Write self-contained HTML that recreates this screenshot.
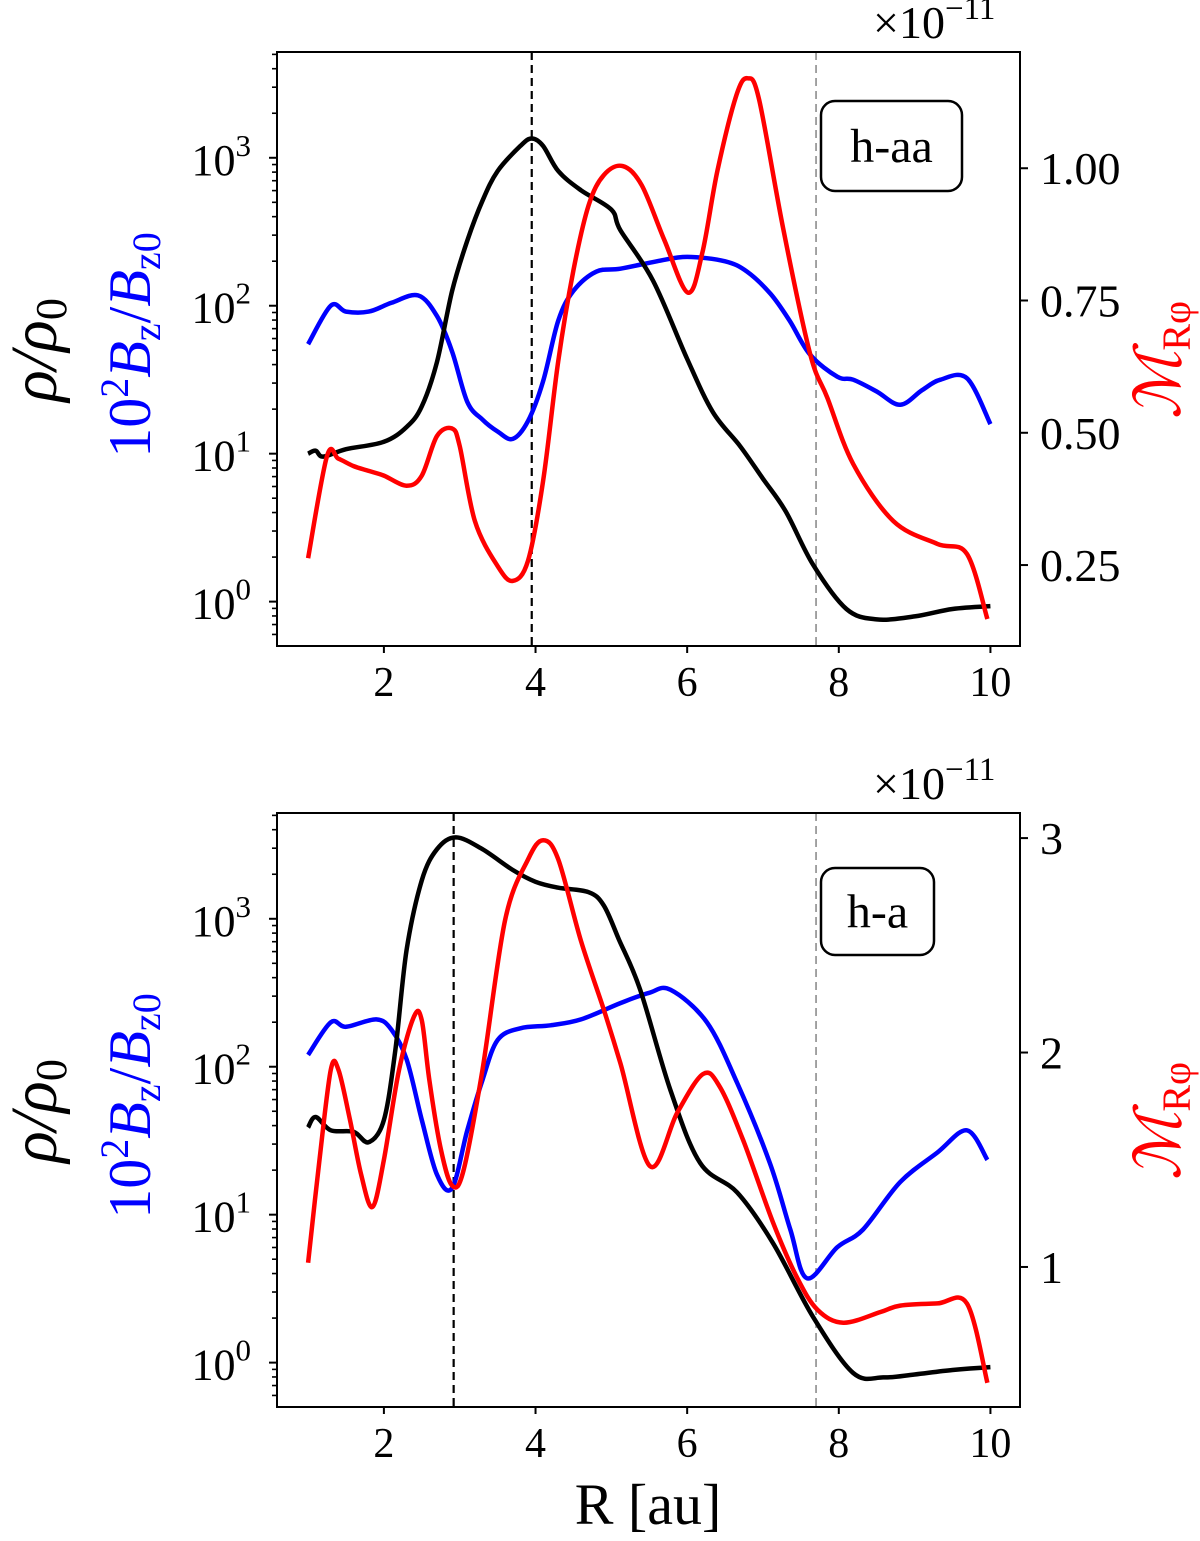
<!DOCTYPE html>
<html><head><meta charset="utf-8"><style>
html,body{margin:0;padding:0;background:#fff;}
svg{display:block;font-family:"Liberation Serif","DejaVu Serif",serif;}
</style></head><body>
<svg id="chart" width="1200" height="1541" viewBox="0 0 1200 1541" xmlns="http://www.w3.org/2000/svg"></svg>
<script>
// ---- data ----
const topR = [1,1.1,1.2,1.5,2,2.3,2.5,2.7,2.9,3.1,3.3,3.5,3.8,3.95,4.1,4.3,4.6,5,5.12,5.55,6.0,6.34,6.7,7.0,7.3,7.66,8.1,8.5,9.0,9.5,10];
const topRhoLog = [1.00,1.02,0.98,1.03,1.08,1.18,1.32,1.62,2.10,2.44,2.71,2.91,3.08,3.13,3.08,2.91,2.78,2.65,2.51,2.17,1.64,1.28,1.05,0.83,0.61,0.25,-0.05,-0.12,-0.10,-0.05,-0.03];
const topBR = [1,1.3,1.5,1.8,2.1,2.45,2.7,2.9,3.1,3.3,3.5,3.7,3.9,4.1,4.3,4.5,4.8,5.12,5.6,6.0,6.5,6.79,7.1,7.35,7.62,7.98,8.19,8.5,8.81,9.1,9.34,9.69,10];
const topBzLog = [1.74,2.0,1.96,1.96,2.02,2.07,1.93,1.69,1.35,1.23,1.15,1.10,1.22,1.49,1.90,2.10,2.23,2.25,2.30,2.33,2.30,2.23,2.08,1.90,1.67,1.52,1.50,1.42,1.33,1.43,1.50,1.51,1.20];
const topMR = [1,1.25,1.4,1.6,1.8,2,2.3,2.5,2.7,2.9,3.0,3.2,3.5,3.7,3.9,4.1,4.3,4.5,4.7,4.9,5.15,5.4,5.7,6.01,6.2,6.4,6.65,6.8,6.95,7.27,7.62,7.85,8.19,8.72,9.3,9.69,9.96];
const topM = [0.263,0.456,0.451,0.437,0.428,0.419,0.40,0.419,0.494,0.508,0.475,0.333,0.248,0.220,0.258,0.409,0.636,0.807,0.930,0.987,1.004,0.968,0.864,0.765,0.840,0.996,1.138,1.170,1.129,0.883,0.650,0.566,0.441,0.333,0.290,0.271,0.148];
const botR = [1,1.1,1.3,1.6,1.8,2,2.15,2.3,2.5,2.7,2.95,3.3,3.7,4,4.3,4.7,4.9,5.1,5.38,5.78,6.17,6.66,7.13,7.66,8.19,8.59,9.0,9.5,10];
const botRhoLog = [1.59,1.66,1.57,1.56,1.49,1.64,2.11,2.79,3.26,3.47,3.55,3.47,3.33,3.25,3.21,3.18,3.09,2.86,2.52,1.84,1.35,1.15,0.81,0.31,-0.07,-0.10,-0.08,-0.05,-0.03];
const botBR = [1,1.3,1.5,1.9,2.1,2.3,2.5,2.7,2.9,3.1,3.3,3.5,3.8,4.2,4.6,5.12,5.5,5.78,6.26,6.66,7.09,7.36,7.58,7.98,8.32,8.81,9.3,9.69,9.96];
const botBzLog = [2.08,2.30,2.27,2.32,2.25,2.05,1.64,1.27,1.18,1.57,1.91,2.18,2.26,2.28,2.32,2.43,2.50,2.52,2.30,1.89,1.35,0.90,0.57,0.78,0.90,1.22,1.42,1.57,1.37];
const botMR = [1,1.15,1.3,1.4,1.55,1.7,1.85,2,2.2,2.4,2.5,2.6,2.75,2.9,3.05,3.3,3.6,3.9,4.1,4.3,4.6,4.9,5.12,5.51,5.87,6.21,6.43,6.74,7.13,7.45,7.72,8.06,8.55,8.81,9.3,9.69,9.96];
const botM = [1.02,1.50,1.92,1.92,1.69,1.43,1.28,1.50,1.92,2.17,2.15,1.87,1.55,1.38,1.45,1.92,2.62,2.90,2.99,2.90,2.52,2.20,1.95,1.47,1.72,1.90,1.84,1.59,1.21,0.95,0.80,0.74,0.79,0.82,0.83,0.83,0.46];
const xTicks = [2,4,6,8,10];
const logTicks = [0,1,2,3];
const topRightTicks = [0.25,0.50,0.75,1.00];
const botRightTicks = [1,2,3];

const NS="http://www.w3.org/2000/svg";
const svg=document.getElementById('chart');
function el(tag,attrs,parent,text){const e=document.createElementNS(NS,tag);for(const k in attrs)e.setAttribute(k,attrs[k]);if(text!==undefined)e.textContent=text;(parent||svg).appendChild(e);return e;}
function smoothPath(pts){let d='M'+pts[0][0].toFixed(1)+','+pts[0][1].toFixed(1);for(let i=0;i<pts.length-1;i++){const p0=pts[Math.max(0,i-1)],p1=pts[i],p2=pts[i+1],p3=pts[Math.min(pts.length-1,i+2)];const c1=[p1[0]+(p2[0]-p0[0])/6,p1[1]+(p2[1]-p0[1])/6],c2=[p2[0]-(p3[0]-p1[0])/6,p2[1]-(p3[1]-p1[1])/6];d+=' C'+c1[0].toFixed(1)+','+c1[1].toFixed(1)+' '+c2[0].toFixed(1)+','+c2[1].toFixed(1)+' '+p2[0].toFixed(1)+','+p2[1].toFixed(1);}return d;}

function panel(cfg){
  const L=277,R=1020,T=cfg.top,B=cfg.top+594;
  const xs=v=>L+(v-0.59)/(10.39-0.59)*(R-L);
  const yl=v=>B-(v-(-0.30))/(3.715+0.30)*(B-T);
  const yr=v=>B-(v-cfg.rmin)/(cfg.rmax-cfg.rmin)*(B-T);
  const g=el('g',{});
  
  
  const v1=el('line',{x1:xs(cfg.vline),x2:xs(cfg.vline),y1:T,y2:B,stroke:'#000','stroke-width':2.2,'stroke-dasharray':'8,5'},g);
  
  
  const v2=el('line',{x1:xs(7.7),x2:xs(7.7),y1:T,y2:B,stroke:'#999','stroke-width':1.8,'stroke-dasharray':'8,5'},g);
  
  
  const b=el('path',{d:smoothPath(cfg.bR.map((r,i)=>[xs(r),yl(cfg.bz[i])])),fill:'none',stroke:'#0000ff','stroke-width':4.5,'stroke-linejoin':'round'},g);
  
  
  const k=el('path',{d:smoothPath(cfg.rhoR.map((r,i)=>[xs(r),yl(cfg.rho[i])])),fill:'none',stroke:'#000','stroke-width':4.5,'stroke-linejoin':'round'},g);
  
  
  const m=el('path',{d:smoothPath(cfg.mR.map((r,i)=>[xs(r),yr(cfg.m[i])])),fill:'none',stroke:'#ff0000','stroke-width':4.5,'stroke-linejoin':'round'},g);
  
  
  const f=el('rect',{x:L,y:T,width:R-L,height:B-T,fill:'none',stroke:'#000','stroke-width':2},g);
  
  
  xTicks.forEach(t=>{el('line',{x1:xs(t),x2:xs(t),y1:B,y2:B+7,stroke:'#000','stroke-width':2},g);
    const tx=el('text',{x:xs(t),y:B+50,'font-size':42,'text-anchor':'middle'},g,String(t));
    
    });
  for(let e=-1;e<=3;e++){for(let mm=2;mm<=9;mm++){const v=e+Math.log10(mm);if(v>-0.30&&v<3.715)el('line',{x1:L-5,x2:L,y1:yl(v),y2:yl(v),stroke:'#000','stroke-width':1.6},g);}}
  logTicks.forEach(t=>{el('line',{x1:L-8,x2:L,y1:yl(t),y2:yl(t),stroke:'#000','stroke-width':2},g);
    const tx=el('text',{x:L-26,y:yl(t)+17,'font-size':44,'text-anchor':'end'},g);
    
    
    el('tspan',{},tx,'10');el('tspan',{dy:-19,'font-size':31},tx,String(t));});
  cfg.rt.forEach(t=>{el('line',{x1:R,x2:R+8,y1:yr(t),y2:yr(t),stroke:'#000','stroke-width':2},g);
    const tx=el('text',{x:R+20,y:yr(t)+16,'font-size':46},g,cfg.fmt(t));
    
    });
  const off=el('text',{x:873,y:T-14,'font-size':46},g);
  
  
  el('tspan',{},off,'×10');el('tspan',{dy:-19,'font-size':33},off,'−11');
  const bx=el('rect',{x:cfg.box[0],y:cfg.box[1],width:cfg.box[2],height:cfg.box[3],rx:14,fill:'#fff',stroke:'#000','stroke-width':2.5},g);
  
  
  const bt=el('text',{x:cfg.box[0]+cfg.box[2]/2,y:cfg.box[1]+cfg.box[3]/2+16,'font-size':48,'text-anchor':'middle'},g,cfg.label);
  
  
  const cy=cfg.top+298;
  const t1=el('text',{transform:`translate(56,${cy}) rotate(-90)`,'font-size':66,'text-anchor':'middle','font-style':'italic'},g);
  
  
  el('tspan',{},t1,'ρ/ρ');el('tspan',{dy:10,'font-size':44,'font-style':'normal'},t1,'0');
  const t2=el('text',{transform:`translate(150,${cy-5}) rotate(-90)`,'font-size':60,'text-anchor':'middle',fill:'#0000ff'},g);
  
  
  el('tspan',{},t2,'10');el('tspan',{dy:-22,'font-size':40},t2,'2');el('tspan',{dy:22,'font-style':'italic'},t2,'B');el('tspan',{dy:10,'font-size':40},t2,'z');el('tspan',{dy:-10},t2,'/');el('tspan',{'font-style':'italic'},t2,'B');el('tspan',{dy:10,'font-size':40},t2,'z0');
  const t3=el('text',{transform:`translate(1180,${cy+10}) rotate(-90)`,'font-size':64,'text-anchor':'middle',fill:'#ff0000','font-style':'italic'},g);
  
  
  el('tspan',{},t3,'ℳ');el('tspan',{dy:10,'font-size':40,'font-style':'normal'},t3,'Rφ');
}
panel({name:'panel-h-aa',top:52,rmin:0.097,rmax:1.2197,vline:3.95,rhoR:topR,rho:topRhoLog,bR:topBR,bz:topBzLog,mR:topMR,m:topM,rt:topRightTicks,fmt:t=>t.toFixed(2),box:[821,101,141,90],label:'h-aa'});
panel({name:'panel-h-a',top:813,rmin:0.347,rmax:3.117,vline:2.92,rhoR:botR,rho:botRhoLog,bR:botBR,bz:botBzLog,mR:botMR,m:botM,rt:botRightTicks,fmt:t=>String(t),box:[821,868,113,87],label:'h-a'});
const xl=el('text',{x:648,y:1524,'font-size':58,'text-anchor':'middle'},svg,'R [au]');


</script>
</body></html>
